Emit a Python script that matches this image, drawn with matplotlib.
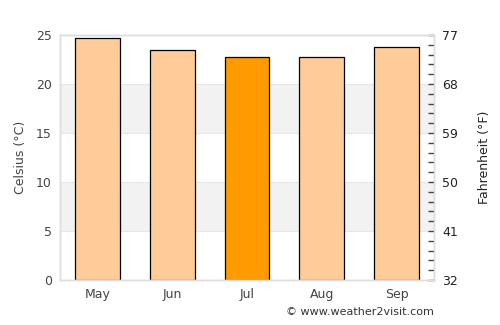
import matplotlib
matplotlib.use("Agg")
import matplotlib.pyplot as plt
from matplotlib.ticker import FixedLocator

months = ["May", "Jun", "Jul", "Aug", "Sep"]
celsius = [24.7, 23.5, 22.8, 22.8, 23.8]
highlight = "Jul"
c_ticks = [0, 5, 10, 15, 20, 25]
f_ticks = [32, 41, 50, 59, 68, 77]

fig = plt.figure(figsize=(5.0, 3.25), dpi=100)
ax = fig.add_axes([0.12, 0.1385, 0.748, 0.7538])

for lo, hi in [(5, 10), (15, 20)]:
    ax.axhspan(lo, hi, color="#f2f2f2", zorder=0, lw=0)
for y in c_ticks[1:-1]:
    ax.axhline(y, color="#e6e6e6", lw=0.8, zorder=0.5)

colors = ["#ff9a00" if m == highlight else "#ffcc99" for m in months]
ax.bar(range(len(months)), celsius, width=0.6, color=colors, edgecolor="black", linewidth=0.9, zorder=2)

ax.set_xlim(-0.5, len(months) - 0.5)
ax.set_ylim(0, 25)
ax.set_yticks(c_ticks)
ax.set_xticks(range(len(months)))
ax.set_xticklabels(months)
ax.tick_params(axis="both", length=0, labelsize=9, colors="#444444", pad=6)
ax.set_ylabel("Celsius (°C)", fontsize=9, color="#444444", labelpad=6)
for s in ax.spines.values():
    s.set_color("#dddddd")
    s.set_linewidth(1)

ax2 = ax.twinx()
ax2.set_ylim(32, 77)
ax2.yaxis.set_major_locator(FixedLocator(f_ticks))
minor = [32 + 1.8 * k for k in range(26) if k % 5 != 0]
ax2.yaxis.set_minor_locator(FixedLocator(minor))
ax2.tick_params(axis="y", which="major", direction="in", length=4, width=1, colors="#444444", labelsize=9, pad=6)
ax2.tick_params(axis="y", which="minor", direction="in", length=4, width=1, color="#444444")
for lab in ax2.get_yticklabels():
    lab.set_color("#222222")
ax2.set_ylabel("Fahrenheit (°F)", fontsize=9, color="#222222", labelpad=14)
for s in ax2.spines.values():
    s.set_color("#dddddd")
    s.set_linewidth(1)

fig.text(0.868, 0.025, "© www.weather2visit.com", ha="right", va="bottom", fontsize=8, color="#333333")

fig.savefig("out.png", dpi=100)
